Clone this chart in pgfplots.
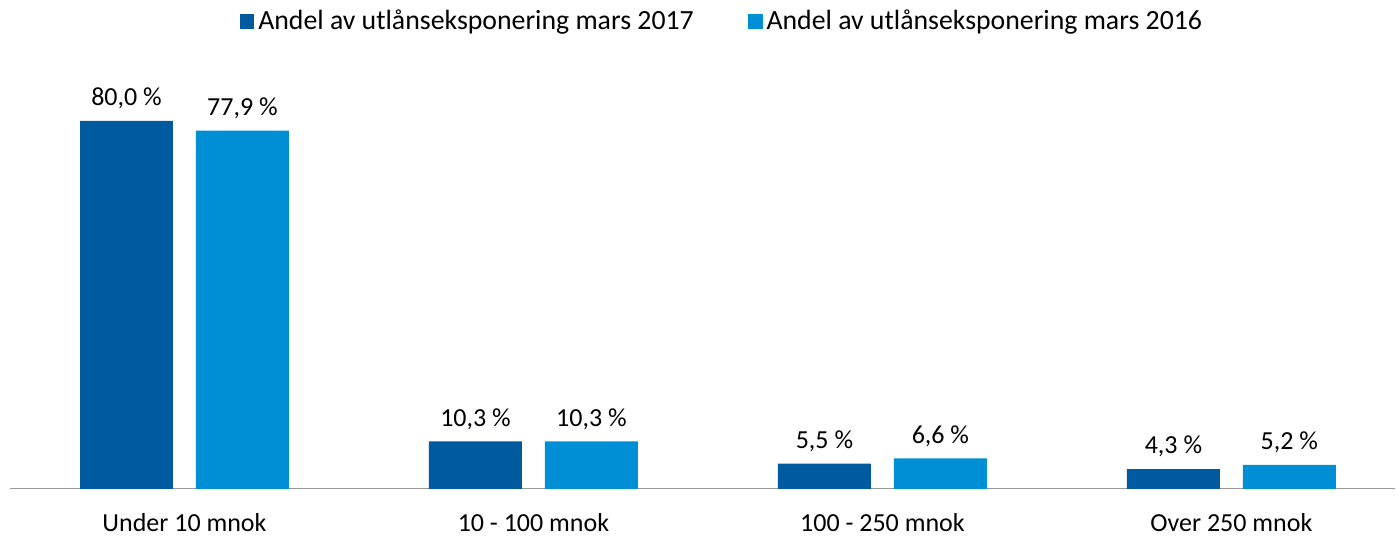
\documentclass[border=0pt]{standalone}
\usepackage{pgfplots}
\pgfplotsset{compat=1.18}
\usepackage{fontspec}
\setmainfont{Carlito}
\definecolor{darkb}{HTML}{005AA0}
\definecolor{lightb}{HTML}{008FD5}
\begin{document}
\fontsize{13pt}{15pt}\selectfont
\begin{tikzpicture}
\begin{axis}[
  at={(0,0)}, anchor=south west,
  scale only axis,
  width=693pt, height=184pt,
  ymin=0, ymax=80,
  xmin=-0.5, xmax=3.47,
  ybar=11.5pt, bar width=46.5pt,
  axis y line=none,
  axis x line*=bottom,
  x axis line style={draw=gray!80, line width=0.6pt, -},
  xtick={0,1,2,3},
  xticklabels={Under 10 mnok, 10 - 100 mnok, 100 - 250 mnok, Over 250 mnok},
  major tick length=0pt,
  xticklabel style={yshift=-8pt, font=\fontsize{13pt}{15pt}\selectfont},
  clip=false,
  nodes near coords={\pgfmathprintnumber[use comma, fixed, fixed zerofill, precision=1, assume math mode=true]{\pgfplotspointmeta}~\%},
  every node near coord/.append style={font=\fontsize{13pt}{15pt}\selectfont, anchor=south, yshift=1.5pt, text=black},
  legend style={draw=none, at={(0.5145,1.27)}, anchor=center, legend columns=2,
    font=\fontsize{13.9pt}{16pt}\selectfont,
    /tikz/every even column/.append style={column sep=25pt}},
  legend image code/.code={\fill[#1] (0pt,-3.7pt) rectangle (7.4pt,3.7pt);},
]
\addplot[fill=darkb, draw=none] coordinates {(0,80.0) (1,10.3) (2,5.5) (3,4.3)};
\addplot[fill=lightb, draw=none] coordinates {(0,77.9) (1,10.3) (2,6.6) (3,5.2)};
\legend{Andel av utlånseksponering mars 2017, Andel av utlånseksponering mars 2016}
\end{axis}
\path[use as bounding box] (-5pt,-23pt) rectangle (693pt,244.5pt);
\end{tikzpicture}
\end{document}
